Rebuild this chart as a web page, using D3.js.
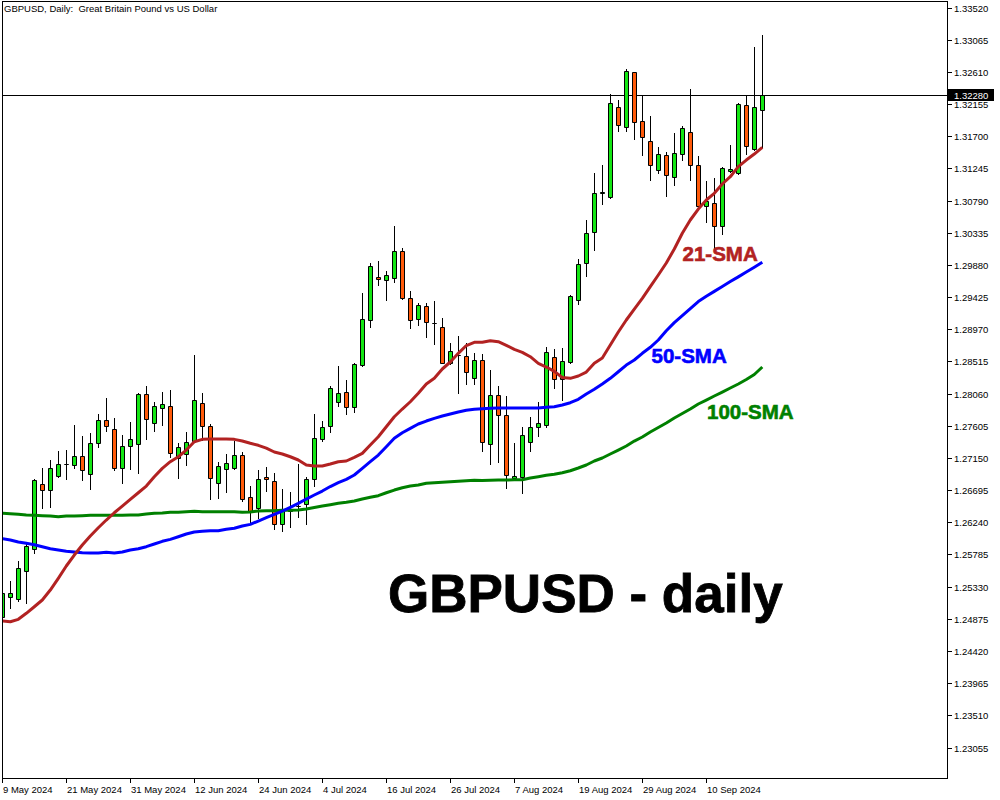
<!DOCTYPE html>
<html><head><meta charset="utf-8">
<script src="https://cdn.jsdelivr.net/npm/d3@7"></script>
<style>body{margin:0;background:#fff}svg{display:block}</style>
</head><body>
<svg id="c" width="1000" height="800"></svg>
<script>
// ---- data ----
const openP = [1.24905,1.25183,1.25151,1.25547,1.25858,1.26781,1.26692,1.26890,1.27068,1.27046,
1.27173,1.26927,1.27357,1.27686,1.27555,1.27003,1.27314,1.27351,1.28054,1.27640,
1.27860,1.27884,1.27145,1.27201,1.27385,1.27923,1.27597,1.26800,1.26998,1.27012,
1.27187,1.26593,1.26438,1.26876,1.26820,1.26211,1.26404,1.26470,1.26494,1.26848,
1.27418,1.27606,1.27945,1.28078,1.27874,1.28464,1.29096,1.29704,1.29662,1.29690,
1.30072,1.29407,1.29111,1.29294,1.29062,1.29006,1.28497,1.28606,1.28591,1.28276,
1.28531,1.27343,1.28036,1.27753,1.26862,1.26876,1.27371,1.27583,1.27611,1.28573,
1.28262,1.28511,1.29379,1.29902,1.30341,1.30900,1.30836,1.32109,1.31826,1.32604,
1.31911,1.31628,1.31218,1.31430,1.31119,1.31444,1.31755,1.31288,1.30709,1.30751,
1.30426,1.31204,1.31175,1.32137,1.31515,1.32066];
const highP = [1.25282,1.25414,1.25692,1.25933,1.26856,1.27012,1.27121,1.27248,1.27262,1.27616,
1.27460,1.27503,1.27771,1.27993,1.27710,1.27474,1.27658,1.28072,1.28167,1.27941,
1.28087,1.28111,1.27357,1.27517,1.28606,1.28064,1.27626,1.27092,1.27201,1.27385,
1.27230,1.26753,1.26979,1.27022,1.26933,1.26711,1.26664,1.27064,1.26880,1.27771,
1.27672,1.28167,1.28450,1.28248,1.28493,1.29482,1.29902,1.29935,1.29794,1.30430,
1.30115,1.29511,1.29341,1.29337,1.29369,1.29125,1.28775,1.28874,1.28771,1.28638,
1.28620,1.28394,1.28167,1.28022,1.27357,1.27592,1.27725,1.27941,1.28715,1.28695,
1.28709,1.29454,1.29963,1.30515,1.31179,1.31293,1.32297,1.32208,1.32646,1.32615,
1.32264,1.31981,1.31543,1.31476,1.31745,1.31840,1.32363,1.31416,1.31062,1.31105,
1.31260,1.31571,1.32165,1.32278,1.32957,1.33127];
const lowP = [1.24872,1.25023,1.25131,1.25098,1.25801,1.26438,1.26452,1.26880,1.26856,1.27003,
1.26838,1.26715,1.27309,1.27535,1.26984,1.26800,1.26998,1.26941,1.27422,1.27535,
1.27616,1.27159,1.26870,1.27050,1.27382,1.27404,1.26565,1.26579,1.26672,1.26998,
1.26537,1.26248,1.26305,1.26687,1.26149,1.26121,1.26177,1.26319,1.26216,1.26757,
1.27394,1.27512,1.27889,1.27767,1.27804,1.28454,1.29006,1.29600,1.29379,1.29642,
1.29393,1.28992,1.29034,1.28864,1.28765,1.28488,1.28478,1.28064,1.28191,1.28191,
1.27252,1.27064,1.27097,1.26721,1.26848,1.26650,1.27252,1.27464,1.27592,1.28143,
1.27969,1.28488,1.29323,1.29727,1.30095,1.30741,1.30822,1.31778,1.31778,1.31665,
1.31438,1.31085,1.31184,1.30861,1.31006,1.31359,1.31085,1.30699,1.30482,1.30091,
1.30313,1.31197,1.31161,1.31444,1.31508,1.31543];
const closeP = [1.25236,1.25240,1.25589,1.25904,1.26838,1.26692,1.27003,1.27060,1.27065,1.27173,
1.26975,1.27357,1.27686,1.27597,1.27003,1.27314,1.27418,1.28054,1.27696,1.27884,
1.27908,1.27215,1.27300,1.27371,1.27969,1.27606,1.26862,1.27032,1.27074,1.27187,
1.26565,1.26404,1.26848,1.26848,1.26211,1.26414,1.26410,1.26470,1.26848,1.27428,
1.27583,1.28135,1.28064,1.27866,1.28474,1.29115,1.29860,1.29676,1.29733,1.30072,
1.29416,1.29096,1.29308,1.29068,1.29062,1.28497,1.28658,1.28606,1.28361,1.28531,
1.27371,1.28036,1.27753,1.26904,1.26894,1.27470,1.27583,1.27640,1.28644,1.28262,
1.28517,1.29440,1.29888,1.30327,1.30892,1.30907,1.32165,1.31854,1.32618,1.31896,
1.31684,1.31288,1.31444,1.31147,1.31458,1.31812,1.31288,1.30709,1.30779,1.30426,
1.31246,1.31232,1.32151,1.31557,1.32109,1.32280];
const sma21 = [1.24844,1.24834,1.24868,1.24953,1.25046,1.25141,1.25282,1.25448,1.25622,1.25777,
1.25919,1.26046,1.26163,1.26272,1.26375,1.26470,1.26565,1.26658,1.26753,1.26885,
1.27003,1.27097,1.27167,1.27262,1.27380,1.27413,1.27418,1.27418,1.27418,1.27413,
1.27389,1.27357,1.27329,1.27290,1.27234,1.27206,1.27167,1.27121,1.27050,1.27036,
1.27036,1.27064,1.27097,1.27107,1.27159,1.27215,1.27333,1.27450,1.27592,1.27733,
1.27842,1.27945,1.28064,1.28196,1.28276,1.28408,1.28507,1.28630,1.28740,1.28785,
1.28785,1.28808,1.28794,1.28743,1.28686,1.28644,1.28582,1.28488,1.28436,1.28375,
1.28287,1.28276,1.28309,1.28365,1.28488,1.28563,1.28747,1.28931,1.29101,1.29256,
1.29407,1.29573,1.29737,1.29907,1.30105,1.30327,1.30515,1.30670,1.30798,1.30892,
1.31024,1.31127,1.31269,1.31363,1.31448,1.31543];
const sma50 = [1.26008,1.25989,1.25961,1.25943,1.25923,1.25895,1.25866,1.25848,1.25830,1.25820,
1.25810,1.25806,1.25806,1.25815,1.25806,1.25820,1.25848,1.25866,1.25895,1.25933,
1.25971,1.25999,1.26036,1.26074,1.26103,1.26112,1.26121,1.26121,1.26141,1.26155,
1.26187,1.26211,1.26258,1.26305,1.26353,1.26399,1.26452,1.26508,1.26569,1.26626,
1.26682,1.26746,1.26800,1.26848,1.26909,1.27003,1.27097,1.27191,1.27309,1.27428,
1.27507,1.27569,1.27630,1.27672,1.27710,1.27743,1.27771,1.27800,1.27824,1.27838,
1.27846,1.27852,1.27856,1.27856,1.27856,1.27856,1.27856,1.27856,1.27866,1.27874,
1.27899,1.27931,1.27979,1.28054,1.28121,1.28196,1.28276,1.28369,1.28464,1.28535,
1.28630,1.28715,1.28818,1.28949,1.29064,1.29163,1.29263,1.29362,1.29437,1.29506,
1.29574,1.29644,1.29711,1.29779,1.29847,1.29917];
const sma100 = [1.26367,1.26361,1.26353,1.26343,1.26339,1.26333,1.26329,1.26319,1.26329,1.26329,
1.26333,1.26339,1.26339,1.26339,1.26339,1.26339,1.26343,1.26343,1.26357,1.26367,
1.26371,1.26381,1.26381,1.26390,1.26395,1.26390,1.26390,1.26390,1.26390,1.26390,
1.26381,1.26385,1.26399,1.26404,1.26404,1.26409,1.26409,1.26414,1.26428,1.26449,
1.26470,1.26489,1.26508,1.26523,1.26541,1.26569,1.26593,1.26616,1.26658,1.26696,
1.26729,1.26753,1.26767,1.26791,1.26800,1.26807,1.26814,1.26820,1.26828,1.26834,
1.26831,1.26834,1.26838,1.26838,1.26841,1.26842,1.26866,1.26885,1.26904,1.26919,
1.26941,1.26969,1.27008,1.27050,1.27107,1.27149,1.27206,1.27262,1.27319,1.27389,
1.27446,1.27517,1.27580,1.27644,1.27715,1.27778,1.27842,1.27913,1.27969,1.28026,
1.28082,1.28139,1.28196,1.28259,1.28330,1.28436];
const priceTicks = ["1.33520","1.33065","1.32610","1.32155","1.31700","1.31245","1.30790","1.30335",
"1.29880","1.29425","1.28970","1.28515","1.28060","1.27605","1.27150","1.26695","1.26240","1.25785",
"1.25330","1.24875","1.24420","1.23965","1.23510","1.23055"];
const dateTicks = ["9 May 2024","21 May 2024","31 May 2024","12 Jun 2024","24 Jun 2024","4 Jul 2024",
"16 Jul 2024","26 Jul 2024","7 Aug 2024","19 Aug 2024","29 Aug 2024","10 Sep 2024"];
const lastPrice = 1.32280;
const titleText = "GBPUSD, Daily:  Great Britain Pound vs US Dollar";
const bigTitle = "GBPUSD - daily";
const maNames = ["21-SMA","50-SMA","100-SMA"];

// trading days (weekdays) starting 9 May 2024
const months = ["Jan","Feb","Mar","Apr","May","Jun","Jul","Aug","Sep","Oct","Nov","Dec"];
const dates = [];
{ let d = new Date(Date.UTC(2024,4,9));
  while (dates.length < openP.length) {
    const wd = d.getUTCDay();
    if (wd !== 0 && wd !== 6) dates.push(`${d.getUTCDate()} ${months[d.getUTCMonth()]} ${d.getUTCFullYear()}`);
    d = new Date(d.getTime() + 86400000);
  } }
const bars = dates.map((d,i)=>({d,o:openP[i],h:highP[i],l:lowP[i],c:closeP[i]}));

// ---- drawing ----
const FONT = "'Liberation Sans', Arial, sans-serif";
const svg = d3.select('#c');
svg.append('rect').attr('width',1000).attr('height',800).attr('fill','#fff');
const P = {l:2, t:2, r:947, b:778};
const y = d3.scaleLinear().domain([1.22624, 1.33598]).range([P.b, P.t]);
const x = d3.scalePoint().domain(dates).range([2.3, 762.3]);

svg.append('clipPath').attr('id','clip').append('rect')
  .attr('x',P.l+1).attr('y',P.t).attr('width',P.r-P.l-1).attr('height',P.b-P.t);
const g = svg.append('g').attr('clip-path','url(#clip)');

// current price line
const yl = Math.round(y(lastPrice))+0.5;
g.append('line').attr('x1',P.l).attr('x2',P.r).attr('y1',yl).attr('y2',yl)
  .attr('stroke','#000').attr('stroke-width',1);

// candles
const cg = g.append('g');
bars.forEach(b=>{
  const cx = Math.round(x(b.d));
  const xw = cx+0.5;
  cg.append('line').attr('x1',xw).attr('x2',xw)
    .attr('y1',Math.round(y(b.h))).attr('y2',Math.round(y(b.l))+1)
    .attr('stroke','#000').attr('stroke-width',1);
  const yt = Math.round(y(Math.max(b.o,b.c)))+0.5;
  const yb = Math.round(y(Math.min(b.o,b.c)))+0.5;
  const bull = b.c >= b.o;
  cg.append('path')
    .attr('d',`M${cx-2+0.5},${yt}H${cx+2+0.5}V${yb}H${cx-2+0.5}Z`)
    .attr('fill', yb-yt < 1 ? 'none' : (bull ? '#14e614' : '#ff5a0a'))
    .attr('stroke','#000').attr('stroke-width',1);
});

// moving averages
const line = d3.line().x((v,i)=>x(dates[i])).y(v=>y(v));
[[sma100,'#008000'],[sma50,'#0000ff'],[sma21,'#b22222']].forEach(([arr,col])=>{
  g.append('path').attr('d',line(arr)).attr('fill','none')
    .attr('stroke',col).attr('stroke-width',3).attr('stroke-linejoin','round');
});

// frame
svg.append('rect').attr('x',P.l+0.5).attr('y',P.t-0.5).attr('width',P.r-P.l).attr('height',P.b-P.t+1)
  .attr('fill','none').attr('stroke','#000').attr('stroke-width',1);

// y axis ticks/labels
const ya = svg.append('g');
priceTicks.forEach(t=>{
  const yy = Math.round(y(+t))+0.5;
  ya.append('line').attr('x1',P.r+1).attr('x2',P.r+5).attr('y1',yy).attr('y2',yy).attr('stroke','#000');
  ya.append('text').attr('x',P.r+7).attr('y',yy).attr('dy','0.35em')
    .attr('font-family',FONT).attr('font-size',9.5).attr('fill','#000').text(t);
});
// current price box
ya.append('rect').attr('x',P.r+1).attr('y',yl-6.5).attr('width',46).attr('height',12).attr('fill','#000');
ya.append('text').attr('x',P.r+7).attr('y',yl).attr('dy','0.35em')
  .attr('font-family',FONT).attr('font-size',9.5).attr('fill','#fff').text(d3.format('.5f')(lastPrice));

// x axis ticks/labels
const xa = svg.append('g');
dateTicks.forEach(t=>{
  const xx = Math.round(x(t))+0.5;
  xa.append('line').attr('x1',xx).attr('x2',xx).attr('y1',P.b).attr('y2',P.b+5).attr('stroke','#000');
  xa.append('text').attr('x',xx+0.5).attr('y',793)
    .attr('font-family',FONT).attr('font-size',9.5).attr('fill','#000').text(t);
});

// header
svg.append('text').attr('x',4).attr('y',12).attr('font-family',FONT).attr('font-size',9.5)
  .attr('fill','#000').attr('xml:space','preserve').style('white-space','pre').text(titleText);

// annotations
const ann = [[maNames[0],'#b22222',682.5,261],[maNames[1],'#0000ff',651.5,362.5],[maNames[2],'#008000',707,419]];
ann.forEach(([t,col,ax,ay])=>{
  svg.append('text').attr('x',ax).attr('y',ay).attr('font-family',FONT).attr('font-weight','bold')
    .attr('font-size',20.5).attr('fill',col).attr('stroke',col).attr('stroke-width',0.6).text(t);
});
svg.append('text').attr('x',388).attr('y',612).attr('font-family',FONT).attr('font-weight','bold')
  .attr('font-size',53).attr('fill','#000').attr('stroke','#000').attr('stroke-width',0.8).text(bigTitle);
</script>
</body></html>
